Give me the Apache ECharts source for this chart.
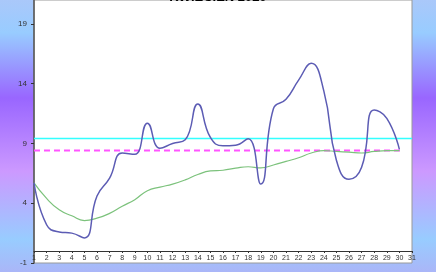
<!DOCTYPE html>
<html>
<head>
<meta charset="utf-8">
<script src="https://cdn.jsdelivr.net/npm/echarts@6/dist/echarts.min.js"></script>
<style>html,body{margin:0;padding:0;}#c{width:436px;height:272px;}</style>
</head>
<body>
<div id="c"></div>
<script>
const days = [1,2,3,4,5,6,7,8,9,10,11,12,13,14,15,16,17,18,19,20,21,22,23,24,25,26,27,28,29,30];
const dailyValues = [5.7,2.2,1.6,1.5,1.1,4.6,6.1,8.2,8.1,10.7,8.6,9.0,9.3,12.3,9.5,8.8,8.85,9.4,5.6,11.9,12.7,14.3,15.7,13.4,7.6,6.0,7.0,11.8,11.1,8.5];
const runningMean = [5.7,4.4,3.45,2.95,2.55,2.75,3.15,3.75,4.3,5.05,5.35,5.6,5.95,6.4,6.7,6.76,6.93,7.05,6.96,7.2,7.5,7.8,8.2,8.4,8.33,8.27,8.2,8.33,8.4,8.4];
const cyanLevel = 9.42;
const magentaLevel = 8.41;
const yTicks = [-1,4,9,14,19];
const titleText = 'KWIECIEŃ 2020';

const chart = echarts.init(document.getElementById('c'));
chart.setOption({
  animation: false,
  backgroundColor: {
    type: 'linear', x: 0, y: 0, x2: 0, y2: 1,
    colorStops: [
      {offset: 0, color: '#aac8fa'},
      {offset: 0.12, color: '#98ccff'},
      {offset: 0.36, color: '#9966ff'},
      {offset: 0.63, color: '#cc99ff'},
      {offset: 0.88, color: '#98ccff'},
      {offset: 1, color: '#aab6f8'}
    ]
  },
  title: {
    text: titleText, left: 'center', top: -14,
    textStyle: {fontSize: 13, fontWeight: 'bold', color: '#000', fontFamily: 'Liberation Sans'}
  },
  grid: {
    left: 34, right: 24, top: 0, bottom: 9,
    show: true, backgroundColor: '#fff', borderColor: '#999', borderWidth: 1
  },
  xAxis: {
    type: 'value', min: 1, max: 31, interval: 1,
    offset: -12,
    axisLine: {onZero: false, lineStyle: {color: '#333', width: 1}},
    axisTick: {show: true, length: 2, lineStyle: {color: '#333'}},
    axisLabel: {fontSize: 7, color: '#333', margin: 4, fontFamily: 'Liberation Sans'},
    splitLine: {show: false}
  },
  yAxis: {
    type: 'value', min: -1, max: 21,
    axisLine: {show: true, lineStyle: {color: '#555', width: 1.5}},
    axisTick: {show: true, length: 3, customValues: yTicks, lineStyle: {color: '#333'}},
    axisLabel: {fontSize: 8, color: '#333', margin: 7, customValues: yTicks, fontFamily: 'Liberation Sans'},
    splitLine: {show: false}
  },
  series: [
    {
      type: 'line', data: [[1, cyanLevel],[31, cyanLevel]], symbol: 'none',
      lineStyle: {color: '#33ffff', width: 1.5}, z: 1
    },
    {
      type: 'line', data: [[1, magentaLevel],[30.2, magentaLevel]], symbol: 'none',
      lineStyle: {color: '#ff55ff', width: 2, type: [6,4]}, z: 1
    },
    {
      type: 'line', data: days.map((d,i)=>[d, runningMean[i]]), symbol: 'none', smooth: 0.5,
      lineStyle: {color: '#7cc27c', width: 1.2}, z: 2
    },
    {
      type: 'line', data: days.map((d,i)=>[d, dailyValues[i]]), symbol: 'none', smooth: 0.5,
      lineStyle: {color: '#5c5cb4', width: 1.5}, z: 3
    }
  ]
});
</script>
</body>
</html>
